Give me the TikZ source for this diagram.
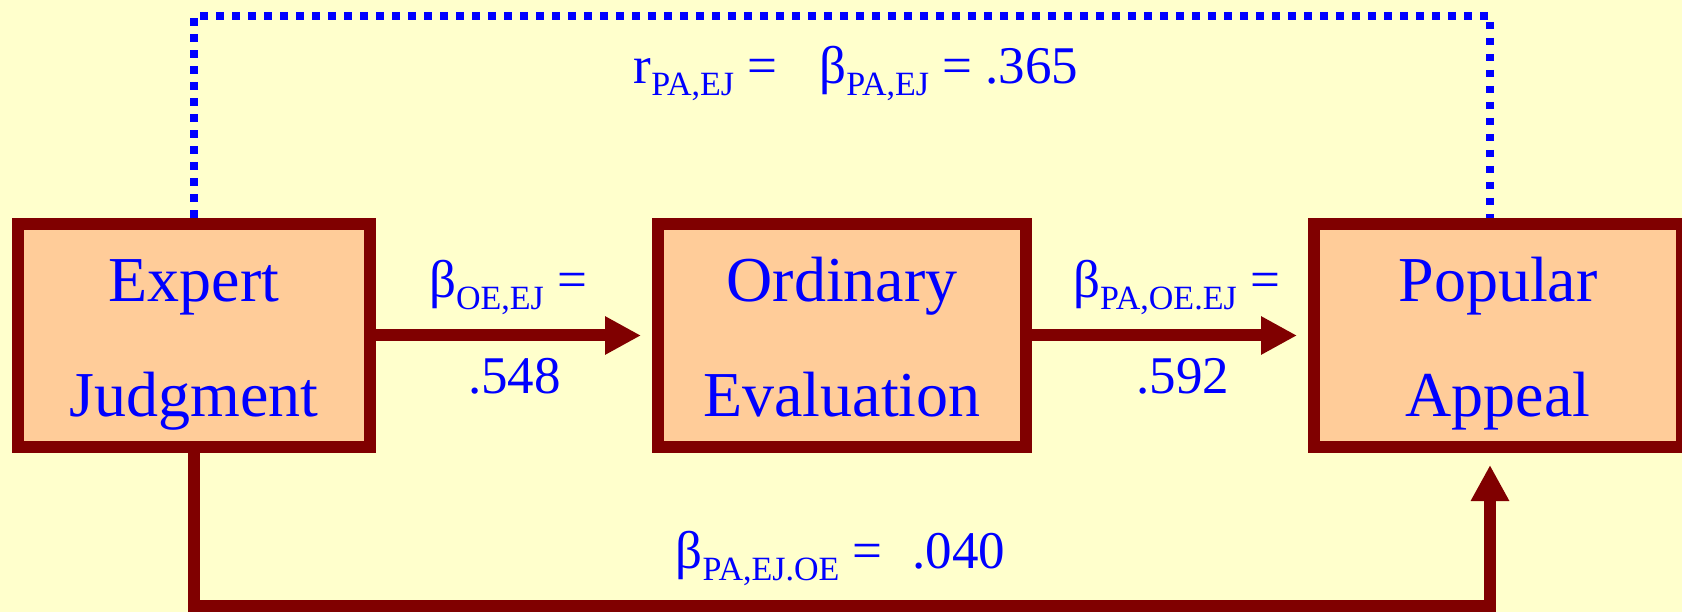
\documentclass[tikz,border=0pt]{standalone}
\usepackage{fontspec}
\setmainfont{Liberation Serif}
\usetikzlibrary{arrows.meta}
\definecolor{bgyellow}{HTML}{FFFFCC}
\definecolor{boxfill}{HTML}{FFCC99}
\definecolor{darkmaroon}{HTML}{800000}
\definecolor{txtblue}{HTML}{0000FF}
\newcommand{\mysub}[1]{\raisebox{-12pt}{\fontsize{34}{34}\selectfont #1}}
\begin{document}
\begin{tikzpicture}[x=1pt,y=-1pt,
  box/.style={draw=darkmaroon, fill=boxfill, line width=12pt, inner sep=0pt, minimum height=223pt},
  boxtxt/.style={text=txtblue, font=\fontsize{64}{64}\selectfont, anchor=base, inner sep=0pt},
  lbl/.style={text=txtblue, font=\fontsize{53}{53}\selectfont, anchor=base, inner sep=0pt},
  conn/.style={draw=darkmaroon, line width=12pt, -{Triangle[length=36pt,width=36pt]}},
  corr/.style={draw=txtblue, line width=7.5pt, dash pattern=on 7.5pt off 8.5pt}]
\fill[bgyellow] (0,0) rectangle (1682,612);
\useasboundingbox (0,0) rectangle (1682,612);

% boxes
\node[box, minimum width=352pt] (ej) at (194,335.5) {};
\node[box, minimum width=368pt] (oe) at (842,335.5) {};
\node[box, minimum width=368pt] (pa) at (1498,335.5) {};

\node[boxtxt] (ej1) at (194,302) {Expert};
\node[boxtxt] (ej2) at (194,417) {Judgment};
\node[boxtxt] (oe1) at (842,302) {Ordinary};
\node[boxtxt] (oe2) at (842,417) {Evaluation};
\node[boxtxt] (pa1) at (1498,302) {Popular};
\node[boxtxt] (pa2) at (1498,417) {Appeal};

% arrows
\draw[conn, shorten >=11pt] (ej.east) -- (oe.west);
\draw[conn, shorten >=11pt] (oe.east) -- (pa.west);
\coordinate (bl) at (194,606);
\coordinate (br) at (1490,606);
\draw[conn, shorten >=12pt] (ej.south) -- (bl) -- (br) -- (br |- pa.south);

% dotted correlation
\coordinate (tl) at (194,16);
\coordinate (tr) at (1490,16);
\draw[corr] (ej.north) -- (tl) -- (tr) -- (tr |- pa.north);

% labels
\node[lbl] (l1) at (508,298) {β\mysub{OE,EJ} =};
\node[lbl] (l1v) at (514.6,393) {.548};
\node[lbl] (l2) at (1176.5,298) {β\mysub{PA,OE.EJ} =};
\node[lbl] (l2v) at (1183,393) {.592};
\node[lbl] (l3) at (840.5,568) {β\mysub{PA,EJ.OE} =\hspace{30pt}.040};
\node[lbl] (l4) at (856,84) {r\mysub{PA,EJ} =\hspace{42pt}β\mysub{PA,EJ} = .365};
\end{tikzpicture}
\end{document}
